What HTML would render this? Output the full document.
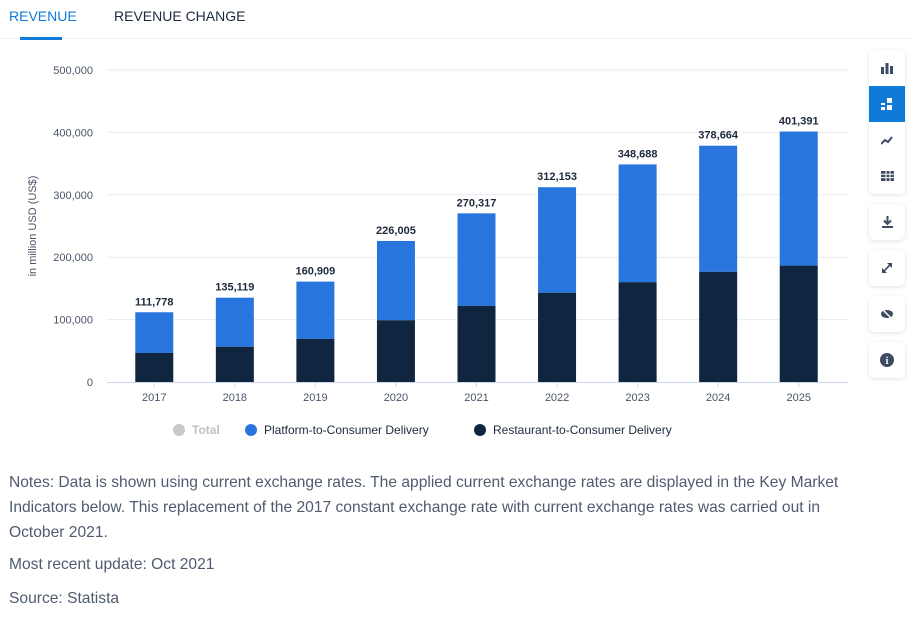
<!DOCTYPE html>
<html><head><meta charset="utf-8"><style>
body{margin:0;width:913px;height:621px;background:#fff;font-family:"Liberation Sans",sans-serif;position:relative;overflow:hidden}
.tab{position:absolute;top:8px;font-size:14px}
.side{position:absolute;left:869px;width:36px;background:#fff;border-radius:5px;box-shadow:0 1px 4px rgba(0,0,0,0.12)}
.ic{width:36px;height:36px;display:flex;align-items:center;justify-content:center;color:#3d4b63;font-size:13px}
.note{position:absolute;left:9px;font-size:15.6px;color:#4f5b6e;line-height:25px;width:850px}
</style></head><body>
<div class="tab" style="left:9px;color:#0f7ad8">REVENUE</div>
<div style="position:absolute;left:0;top:38px;width:913px;height:1px;background:#eef2f6"></div>
<div style="position:absolute;left:20px;top:37px;width:42px;height:3px;background:#0f7ad8;z-index:2"></div>
<div class="tab" style="left:114px;color:#1d2a3c">REVENUE CHANGE</div>

<svg id="chart" width="860" height="450" style="position:absolute;left:0;top:0"></svg>

<div class="side" style="top:50px">
 <div class="ic"><svg width="12" height="12"><rect x="0" y="5" width="3" height="7" fill="#3d4b63"/><rect x="4.5" y="1" width="3" height="11" fill="#3d4b63"/><rect x="9" y="4" width="3" height="8" fill="#3d4b63"/></svg></div>
 <div class="ic" style="background:#0f7ad8"><svg width="12" height="12"><rect x="0" y="5" width="4" height="2" fill="#fff"/><rect x="0" y="9" width="4" height="3" fill="#fff"/><rect x="6" y="0" width="5" height="5" fill="#fff"/><rect x="6" y="7" width="5" height="5" fill="#fff"/></svg></div>
 <div class="ic"><svg width="12" height="10"><polyline points="0,9 4,5 7,7 11,2" stroke="#3d4b63" stroke-width="2" fill="none"/></svg></div>
 <div class="ic"><svg width="13" height="10"><rect x="0" y="0" width="13" height="10" fill="#3d4b63"/><path d="M0 3.3H13M0 6.6H13M5 0V10M9 0V10" stroke="#fff" stroke-width="1"/></svg></div>
</div>
<div class="side" style="top:204px"><div class="ic"><svg width="11" height="12"><path d="M5.5 0V8M2 4.5L5.5 8L9 4.5" stroke="#3d4b63" stroke-width="2" fill="none"/><rect x="0" y="10" width="11" height="2" fill="#3d4b63"/></svg></div></div>
<div class="side" style="top:250px"><div class="ic"><svg width="12" height="12"><path d="M2 10L10 2" stroke="#3d4b63" stroke-width="1.6"/><path d="M6 1H11V6Z" fill="#3d4b63"/><path d="M1 6V11H6Z" fill="#3d4b63"/></svg></div></div>
<div class="side" style="top:296px"><div class="ic"><svg width="12" height="10"><ellipse cx="6" cy="5" rx="6" ry="4" fill="#3d4b63"/><line x1="1" y1="0" x2="11" y2="10" stroke="#fff" stroke-width="1.5"/></svg></div></div>
<div class="side" style="top:342px"><div class="ic"><svg width="14" height="14"><circle cx="7" cy="7" r="7" fill="#3d4b63"/><text x="7" y="11" font-size="10" font-weight="bold" fill="#fff" text-anchor="middle" font-family="Liberation Serif">i</text></svg></div></div>

<div class="note" style="top:470px">Notes: Data is shown using current exchange rates. The applied current exchange rates are displayed in the Key Market Indicators below. This replacement of the 2017 constant exchange rate with current exchange rates was carried out in October 2021.</div>
<div class="note" style="top:552px">Most recent update: Oct 2021</div>
<div class="note" style="top:586px">Source: Statista</div>

<script>
const years=["2017","2018","2019","2020","2021","2022","2023","2024","2025"];
const totals=[111778,135119,160909,226005,270317,312153,348688,378664,401391];
const restaurant=[46500,56500,69000,99000,122000,143000,160000,176500,186500];
const yTicks=[0,100000,200000,300000,400000,500000];
const yTickLabels=["0","100,000","200,000","300,000","400,000","500,000"];
const legendLabels=["Total","Platform-to-Consumer Delivery","Restaurant-to-Consumer Delivery"];

const svg=document.getElementById('chart');const NS="http://www.w3.org/2000/svg";
const x0=114,x1=839,axEnd=848,y0=382,yTop=70,maxV=500000;
const y=v=>y0-(v/maxV)*(y0-yTop);
const step=(x1-x0)/years.length;
const xc=i=>x0+step*(i+0.5);
const bw=38;
function mk(t,a,txt){const e=document.createElementNS(NS,t);for(const k in a)e.setAttribute(k,a[k]);if(txt!=null)e.textContent=txt;svg.appendChild(e);return e;}
yTicks.forEach((t,i)=>{
 if(t>0){const g=mk('line',{x1:107,x2:axEnd,y1:y(t),y2:y(t),stroke:'#e6ebf0','stroke-width':1});
 
 }
 const l=mk('text',{x:93,y:y(t)+4,'text-anchor':'end','font-size':11,fill:'#4a5568','font-family':'Liberation Sans'},yTickLabels[i]);
 
 
});
const yt=mk('text',{x:0,y:0,transform:'translate(36,226) rotate(-90)','text-anchor':'middle','font-size':11,fill:'#4a5568','font-family':'Liberation Sans'},'in million USD (US$)');


years.forEach((yr,i)=>{
 const b1=mk('rect',{x:xc(i)-bw/2,y:y(totals[i]),width:bw,height:y(restaurant[i])-y(totals[i]),fill:'#2876dd'});
 
 
 const b2=mk('rect',{x:xc(i)-bw/2,y:y(restaurant[i]),width:bw,height:y0-y(restaurant[i]),fill:'#0f2540'});
 
 
 const tl=mk('text',{x:xc(i),y:y(totals[i])-7,'text-anchor':'middle','font-size':11,'font-weight':'bold',fill:'#1d2a3c','font-family':'Liberation Sans'},totals[i].toLocaleString('en-US'));
 
 
 const tk=mk('line',{x1:xc(i),x2:xc(i),y1:y0,y2:y0+5,stroke:'#ccd6eb','stroke-width':1});
 
 
 const xl=mk('text',{x:xc(i),y:401,'text-anchor':'middle','font-size':11,fill:'#4a5568','font-family':'Liberation Sans'},yr);
 
 
});
const ax=mk('line',{x1:107,x2:axEnd,y1:y0+0.5,y2:y0+0.5,stroke:'#ccd6eb','stroke-width':1});


const lx=[179,251,480],lc=['#c8c8c8','#2876dd','#0f2540'],tc=['#c0c0c0','#1d2a3c','#1d2a3c'];
legendLabels.forEach((s,i)=>{
 const c=mk('circle',{cx:lx[i],cy:430,r:6,fill:lc[i]});
 
 
 const t=mk('text',{x:lx[i]+13,y:434,'font-size':12,'font-weight':i==0?'bold':'normal',fill:tc[i],'font-family':'Liberation Sans'},s);
 
 
});
</script>
</body></html>
